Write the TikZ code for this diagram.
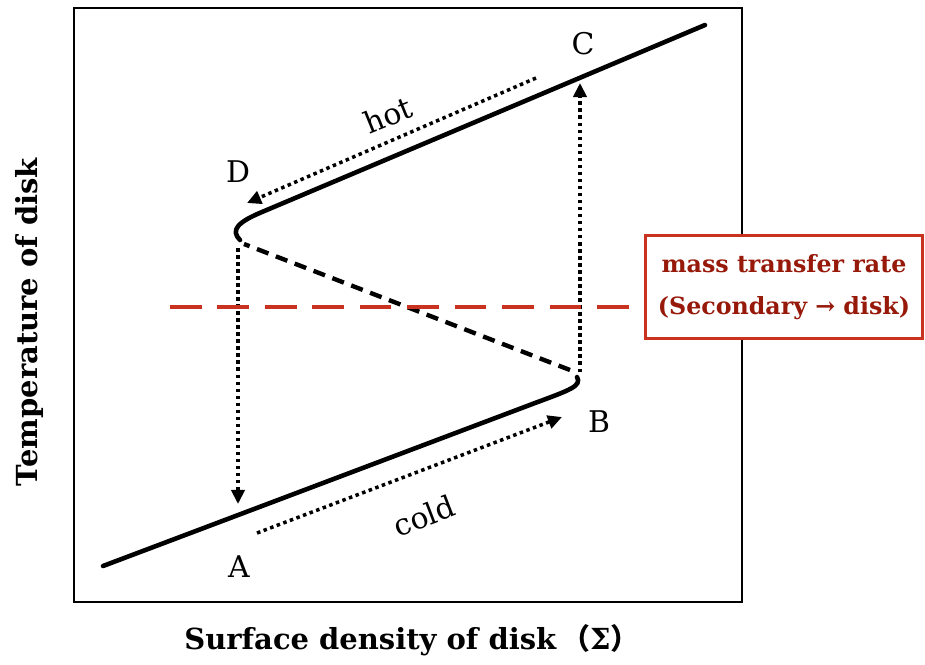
\documentclass[tikz,border=0pt]{standalone}
\usepackage{fontspec}
\setmainfont{DejaVu Serif}
\newfontfamily\cjk{Noto Sans CJK SC}
\usepackage{xcolor}
\usetikzlibrary{arrows.meta,positioning,calc}
\definecolor{massred}{RGB}{200,50,30}
\definecolor{masstext}{RGB}{150,25,10}

\begin{document}
\begin{tikzpicture}[x=0.02cm,y=-0.02cm,
  branch/.style={line width=2.6pt,line cap=round},
  unstable/.style={line width=2.5pt,dash pattern=on 7pt off 4.5pt},
  jump/.style={line width=2pt,dash pattern=on 2pt off 2pt,-{Triangle[length=8pt,width=7.5pt]}},
  ptlabel/.style={font=\fontsize{17}{19}\selectfont},
  axislabel/.style={font=\bfseries\fontsize{16.5}{19}\selectfont},
  massbox/.style={draw=massred,line width=1.8pt,fill=white,align=center,text=masstext,
    minimum width=158pt,minimum height=59pt,font=\bfseries\fontsize{13.5}{23.5}\selectfont}]
\useasboundingbox (0,0) rectangle (925,664);
% frame
\draw[line width=1.3pt] (74,8) rectangle (742,602);
% S-curve
\draw[branch] (103,566) -- (535,403) .. controls (570,390) and (582,386) .. (577,377);
\draw[unstable] (570,370) -- (244,244);
\draw[branch] (240,240) .. controls (230,230) and (238,222) .. (262,212) -- (705,25);
% labels
\node[ptlabel] (A) at (239,567) {A};
\node[ptlabel] (B) at (599,422) {B};
\node[ptlabel] (C) at (583,44) {C};
\node[ptlabel] (D) at (238,172) {D};
\node[ptlabel,rotate=22] (hot) at (388,115) {hot};
\node[ptlabel,rotate=21] (cold) at (424,516) {cold};
% transitions
\coordinate (Dtop) at (238,248);
\coordinate (Abot) at (238,504);
\coordinate (Bbot) at (580,372);
\coordinate (Ctop) at (580,83);
\coordinate (hotstart) at (536,78);
\coordinate (hotend) at (247,203);
\coordinate (coldstart) at (257,533);
\coordinate (coldend) at (562,417);
\draw[jump] (Dtop) -- (Abot);
\draw[jump] (Bbot) -- (Ctop);
\draw[jump] (hotstart) -- (hotend);
\draw[jump] (coldstart) -- (coldend);
% mass transfer rate
\coordinate (mleft) at (170,307);
\node[massbox] (mass) at (784,287) {mass transfer rate\\(Secondary → disk)};
\draw[massred,line width=1.8pt,dash pattern=on 18pt off 9pt] (mleft) -- (mleft -| mass.west);
\node[massbox] at (mass) {mass transfer rate\\(Secondary → disk)};
% axes
\node[axislabel,rotate=90] (ylab) at (30,322) {Temperature of disk};
\node[axislabel] (xlab) at (412,640) {Surface density of disk\,{\cjk （}Σ{\cjk ）}};
\end{tikzpicture}
\end{document}
